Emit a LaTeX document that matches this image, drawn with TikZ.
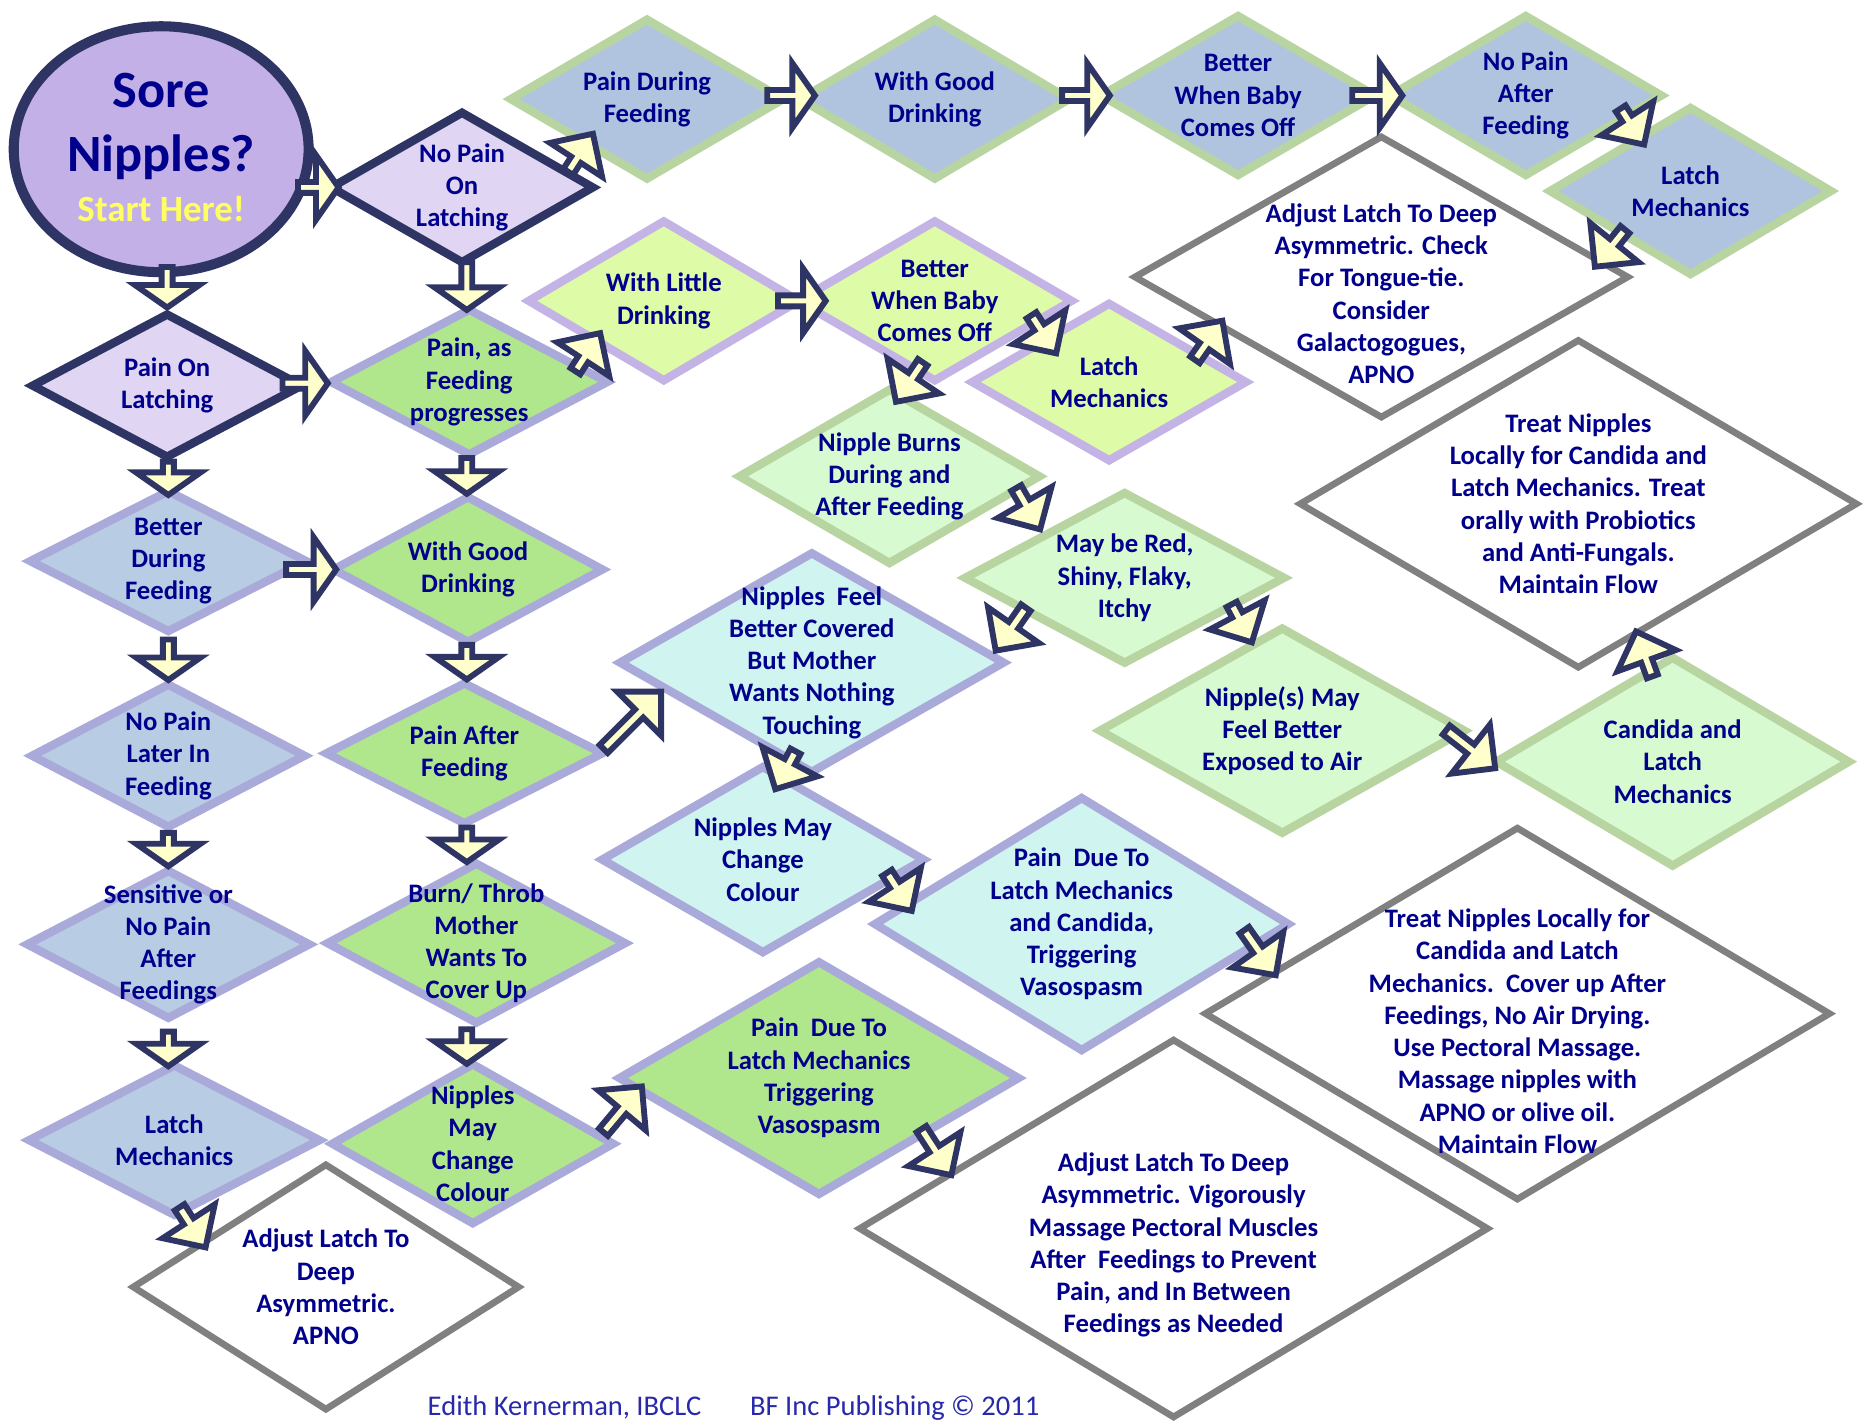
\documentclass[tikz,border=0pt]{standalone}
\usepackage{fontspec}
\setmainfont{Carlito}
\usetikzlibrary{shapes.geometric,shapes.arrows}

\definecolor{navytxt}{RGB}{0,0,140}
\definecolor{edgenavy}{RGB}{46,52,100}
\definecolor{titlefill}{RGB}{194,176,230}
\definecolor{lilac}{RGB}{224,214,243}
\definecolor{steel}{RGB}{176,196,224}
\definecolor{steelb}{RGB}{184,204,228}
\definecolor{sage}{RGB}{184,212,160}
\definecolor{lavedge}{RGB}{170,170,218}
\definecolor{leaf}{RGB}{176,230,140}
\definecolor{lime}{RGB}{222,251,168}
\definecolor{orchid}{RGB}{196,180,230}
\definecolor{mint}{RGB}{216,250,208}
\definecolor{aqua}{RGB}{208,244,240}
\definecolor{slate}{RGB}{128,128,128}
\definecolor{cream}{RGB}{255,255,204}
\definecolor{startyellow}{RGB}{255,255,100}
\definecolor{footblue}{RGB}{40,40,170}

\tikzset{
  txt/.style={align=center, text=navytxt, inner sep=0pt,
              font=\bfseries\fontsize{15.9}{19.2}\selectfont},
  sz/.style 2 args={minimum width=#1*0.025cm, minimum height=#2*0.025cm},
  lbl/.style={label={[txt]center:{#1}}},
  lbld/.style 2 args={label={[txt,yshift=#1]center:{#2}}},
  dbase/.style={diamond, inner sep=0pt, line width=5pt},
  entry/.style={dbase, draw=edgenavy, fill=lilac},
  topdia/.style={dbase, draw=sage, fill=steel},
  leftdia/.style={dbase, draw=lavedge, fill=steelb},
  leafdia/.style={dbase, draw=lavedge, fill=leaf},
  limedia/.style={dbase, draw=orchid, fill=lime},
  mintdia/.style={dbase, draw=sage, fill=mint},
  aquadia/.style={dbase, draw=lavedge, fill=aqua},
  advice/.style={dbase, draw=slate, fill=white, line width=4pt},
  blk/.style={single arrow, draw=edgenavy, fill=cream, line width=3.5pt,
              inner sep=0pt, minimum width=1.35cm,
              single arrow head extend=0.3cm, single arrow tip angle=110,
              minimum height=#1*0.025cm},
  slant/.style={blk=#1, minimum width=1.3cm,
                single arrow head extend=0.27cm, single arrow tip angle=90}
}

\begin{document}
\begin{tikzpicture}[x=0.025cm,y=-0.025cm]
\useasboundingbox (0,0) rectangle (1568,1190);

% start
\node[ellipse, draw=edgenavy, fill=titlefill, line width=6pt, inner sep=0pt,
      sz={247}{206}] (sore) at (135,125) {};
\node[text=navytxt, align=center, inner sep=0pt,
      font=\bfseries\fontsize{31.2}{38.4}\selectfont] (soretxt) at (135,106) {Sore\\Nipples?};
\node[text=startyellow, inner sep=0pt,
      font=\bfseries\fontsize{22}{26}\selectfont] (start) at (135,175) {Start Here!};

% left column
\node[entry, sz={228}{122}, lbl={Pain On\\Latching}] (pol) at (140,323) {};
\node[leftdia, sz={234}{120}, lbl={Better\\During\\Feeding}] (bdf) at (141,470) {};
\node[leftdia, sz={231}{122}, lbl={No Pain\\Later In\\Feeding}] (npl) at (141,633) {};
\node[leftdia, sz={239}{126}, lbl={Sensitive or\\No Pain\\After\\Feedings}] (son) at (141,791) {};
\node[leftdia, sz={246}{128}, lbl={Latch\\Mechanics}] (lma) at (146,955) {};
\node[advice, sz={325}{207}, lbl={Adjust Latch To\\Deep\\Asymmetric.\\APNO}] (adj) at (273,1078) {};

% second column
\node[entry, sz={222}{128}, lbl={No Pain\\On\\Latching}] (npo) at (387,157) {};
\node[leafdia, sz={234}{124}, lbl={Pain, as\\Feeding\\progresses}] (paf) at (393,320) {};
\node[leafdia, sz={228}{124}, lbl={With Good\\Drinking}] (wgd) at (392,477) {};
\node[leafdia, sz={234}{120}, lbl={Pain After\\Feeding}] (pan) at (389,631) {};
\node[leafdia, sz={252}{136}, lbl={Burn/ Throb\\Mother\\Wants To\\Cover Up}] (btm) at (399,790) {};
\node[leafdia, sz={238}{136}, lbl={Nipples\\May\\Change\\Colour}] (nmc) at (396,958) {};
\node[leafdia, sz={337}{197}, lbl={Pain~~Due To\\Latch Mechanics\\Triggering\\Vasospasm}] (pdv) at (686,903) {};

% top row
\node[topdia, sz={231}{136}, lbl={Pain During\\Feeding}] (pdf) at (542,83) {};
\node[topdia, sz={228}{136}, lbl={With Good\\Drinking}] (tgd) at (783,83) {};
\node[topdia, sz={232}{136}, lbl={Better\\When Baby\\Comes Off}] (tbw) at (1037,80) {};
\node[topdia, sz={230}{136}, lbl={No Pain\\After\\Feeding}] (tnp) at (1278,80) {};
\node[topdia, sz={238}{142}, lbl={Latch\\Mechanics}] (tlm) at (1416,160) {};

% little drinking row
\node[limedia, sz={229}{136}, lbl={With Little\\Drinking}] (wld) at (556,252) {};
\node[limedia, sz={232}{136}, lbl={Better\\When Baby\\Comes Off}] (ybw) at (783,252) {};
\node[limedia, sz={232}{134}, lbl={Latch\\Mechanics}] (ylm) at (929,320) {};

% burning
\node[mintdia, sz={254}{148}, lbl={Nipple Burns\\During and\\After Feeding}] (nbd) at (745,399) {};
\node[mintdia, sz={270}{145}, lbl={May be Red,\\Shiny, Flaky,\\Itchy}] (rsf) at (942,484) {};
\node[mintdia, sz={308}{174}, lbl={Nipple(s) May\\Feel Better\\Exposed to Air}] (fba) at (1074,612) {};
\node[mintdia, sz={298}{177}, lbl={Candida and\\Latch\\Mechanics}] (cal) at (1401,638) {};

% covering
\node[aquadia, sz={324}{186}, lbl={Nipples~~Feel\\Better Covered\\But Mother\\Wants Nothing\\Touching}] (fbc) at (680,555) {};
\node[aquadia, sz={272}{158}, lbl={Nipples May\\Change\\Colour}] (cmc) at (639,720) {};
\node[aquadia, sz={349}{214}, lbl={Pain~~Due To\\Latch Mechanics\\and Candida,\\Triggering\\Vasospasm}] (pdc) at (906,774) {};

% advice
\node[advice, sz={415}{237}, lbld={-0.35cm}{Adjust Latch To Deep\\Asymmetric. Check\\For Tongue-tie.\\Consider\\Galactogogues,\\APNO}] (ach) at (1157,232) {};
\node[advice, sz={468}{276}, lbl={Treat Nipples\\Locally for Candida and\\Latch Mechanics. Treat\\orally with Probiotics\\and Anti-Fungals.\\Maintain Flow}] (tnl) at (1322,422) {};
\node[advice, sz={525}{313}, lbld={-0.37cm}{Treat Nipples Locally for\\Candida and Latch\\Mechanics.~~Cover up After\\Feedings, No Air Drying.\\Use Pectoral Massage.\\Massage nipples with\\APNO or olive oil.\\Maintain Flow}] (tnc) at (1271,849) {};
\node[advice, sz={528}{318}, lbld={-0.35cm}{Adjust Latch To Deep\\Asymmetric. Vigorously\\Massage Pectoral Muscles\\After~~Feedings to Prevent\\Pain, and In Between\\Feedings as Needed}] (avm) at (983,1029) {};

% arrows
\node[blk=34, rotate=-90] (sore-pol) at (140,239) {};
\node[blk=34] (sore-npo) at (265,157) {};
\node[blk=40, rotate=-90] (npo-paf) at (391,238) {};
\node[blk=38] (pol-paf) at (254,321) {};
\node[blk=40] (pdf-tgd) at (661,80) {};
\node[blk=40] (tgd-tbw) at (908,80) {};
\node[blk=40] (wld-ybw) at (670,252) {};
\node[blk=42] (tbw-tnp) at (1152,80) {};
\node[blk=28, rotate=-90] (pol-bdf) at (141,399) {};
\node[blk=34, rotate=-90] (bdf-npl) at (141,551) {};
\node[blk=28, rotate=-90] (npl-son) at (141,710) {};
\node[blk=29, rotate=-90] (son-lma) at (141,877) {};
\node[blk=30, rotate=-90] (paf-wgd) at (391,397) {};
\node[blk=29, rotate=-90] (wgd-pan) at (391,553) {};
\node[blk=29, rotate=-90] (pan-btm) at (391,706) {};
\node[blk=29, rotate=-90] (btm-nmc) at (391,875) {};
\node[blk=42] (bdf-wgd) at (259,477) {};

\node[slant=38, rotate=57] (npo-pdf) at (485,130) {};
\node[slant=38, rotate=57] (paf-wld) at (491,297) {};
\node[slant=36, rotate=-57] (tnp-tlm) at (1366,104) {};
\node[slant=40, rotate=-129] (tlm-ach) at (1350,206) {};
\node[slant=40, rotate=55] (ylm-ach) at (1011,287) {};
\node[slant=38, rotate=-57] (ybw-ylm) at (873,278) {};
\node[slant=40, rotate=-124] (ybw-nbd) at (763,318) {};
\node[slant=40, rotate=-60] (nbd-rsf) at (860,424) {};
\node[slant=44, rotate=-125] (rsf-fbc) at (848,525) {};
\node[slant=36, rotate=-62] (rsf-fba) at (1039,520) {};
\node[slant=68, rotate=45] (pan-fbc) at (528,605) {};
\node[slant=36, rotate=-118] (fbc-cmc) at (659,643) {};
\node[slant=38, rotate=-57] (cmc-pdc) at (752,745) {};
\node[slant=46, rotate=-55] (pdc-tnc) at (1054,796) {};
\node[slant=52, rotate=-38] (fba-cal) at (1230,626) {};
\node[slant=40, rotate=110] (cal-tnl) at (1378,550) {};
\node[slant=40, rotate=-57] (lma-adj) at (160,1026) {};
\node[slant=50, rotate=50] (nmc-pdv) at (520,931) {};
\node[slant=46, rotate=-57] (pdv-avm) at (783,963) {};

% footer
\node[anchor=base west, inner sep=0pt, text=footblue,
      font=\fontsize{17}{20}\selectfont] (auth) at (358,1186) {Edith Kernerman, IBCLC};
\node[anchor=base west, inner sep=0pt, text=footblue,
      font=\fontsize{17}{20}\selectfont] (pub) at (628,1186) {BF Inc Publishing © 2011};
\end{tikzpicture}
\end{document}
